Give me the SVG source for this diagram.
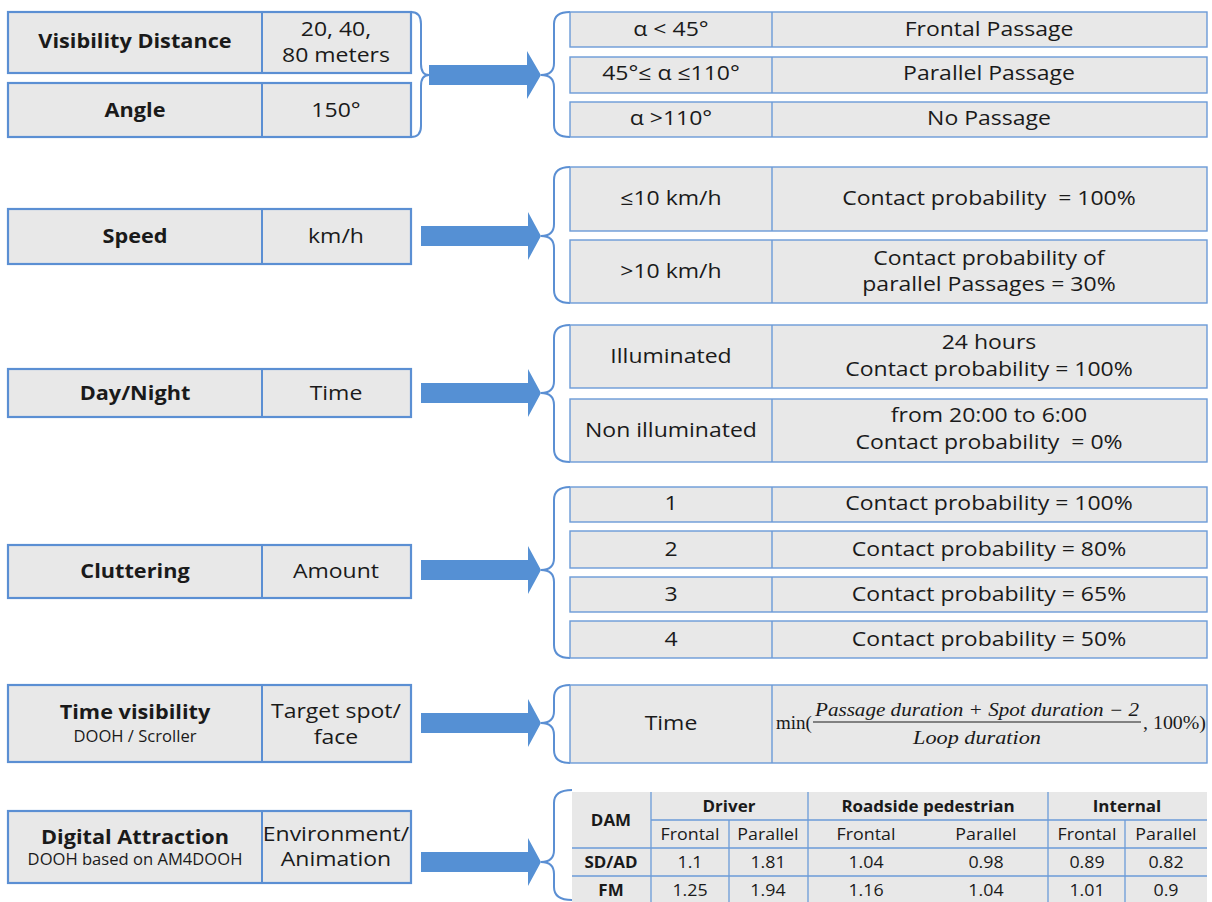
<svg xmlns="http://www.w3.org/2000/svg" width="1212" height="902" viewBox="0 0 1212 902">
<style>
  .lbox{fill:#e8e8e8;stroke:#5b8fd3;stroke-width:2.2}
  .rbox{fill:#e8e8e8;stroke:#6b9bd8;stroke-width:1.4}
  .div{stroke:#5b8fd3;stroke-width:2}
  .rdiv{stroke:#6b9bd8;stroke-width:1.4}
  .arrow{fill:#5590d4}
  .brace{fill:none;stroke:#5b8fd3;stroke-width:2}
  text{font-family:"Open Sans","Noto Sans",sans-serif;fill:#1a1a1a;text-anchor:middle}
  .t,.s,.tb{transform-box:fill-box;transform-origin:center}
  .b{font-weight:bold}
  .t{font-size:20px;transform:scaleX(1.15)}
  .t.b{transform:scaleX(1.085)}
  .s{font-size:15.5px;transform:scaleX(1.07)}
  .tb{font-size:16.5px;transform:scaleX(1.08)}
  .tb.b{transform:scaleX(1.03)}
  .m{font-family:"Liberation Serif","DejaVu Serif",serif;font-size:19px}
  .mi{font-family:"Liberation Serif","DejaVu Serif",serif;font-size:18px;font-style:italic}
  .tl{stroke:#6b9bd8;stroke-width:1.3}
</style>

<!-- Left nodes -->
<g id="n-visibility">
  <rect class="lbox" x="8" y="12" width="403" height="61"/>
  <line class="div" x1="262" y1="12" x2="262" y2="73"/>
  <text class="t b" x="135" y="48">Visibility Distance</text>
  <text class="t" x="336" y="36">20, 40,</text>
  <text class="t" x="336" y="62">80 meters</text>
</g>
<g id="n-angle">
  <rect class="lbox" x="8" y="83" width="403" height="54"/>
  <line class="div" x1="262" y1="83" x2="262" y2="137"/>
  <text class="t b" x="135" y="117">Angle</text>
  <text class="t" x="336" y="117">150°</text>
</g>
<g id="n-speed">
  <rect class="lbox" x="8" y="209" width="403" height="55"/>
  <line class="div" x1="262" y1="209" x2="262" y2="264"/>
  <text class="t b" x="135" y="243">Speed</text>
  <text class="t" x="336" y="243">km/h</text>
</g>
<g id="n-daynight">
  <rect class="lbox" x="8" y="369" width="403" height="48"/>
  <line class="div" x1="262" y1="369" x2="262" y2="417"/>
  <text class="t b" x="135" y="400">Day/Night</text>
  <text class="t" x="336" y="400">Time</text>
</g>
<g id="n-cluttering">
  <rect class="lbox" x="8" y="545" width="403" height="53"/>
  <line class="div" x1="262" y1="545" x2="262" y2="598"/>
  <text class="t b" x="135" y="578">Cluttering</text>
  <text class="t" x="336" y="578">Amount</text>
</g>
<g id="n-timevis">
  <rect class="lbox" x="8" y="685" width="403" height="77"/>
  <line class="div" x1="262" y1="685" x2="262" y2="762"/>
  <text class="t b" x="135" y="719">Time visibility</text>
  <text class="s" x="135" y="742">DOOH / Scroller</text>
  <text class="t" x="336" y="718">Target spot/</text>
  <text class="t" x="336" y="744">face</text>
</g>
<g id="n-digital">
  <rect class="lbox" x="8" y="811" width="403" height="72"/>
  <line class="div" x1="262" y1="811" x2="262" y2="883"/>
  <text class="t b" x="135" y="844">Digital Attraction</text>
  <text class="s" x="135" y="865">DOOH based on AM4DOOH</text>
  <text class="t" x="336" y="841">Environment/</text>
  <text class="t" x="336" y="866">Animation</text>
</g>

<!-- Connectors: braces and arrows -->
<g id="connectors">
  <path class="brace" d="M411,12 Q421,12 421,24 L421,64 Q421,75 429,75 Q421,75 421,86 L421,126 Q421,137 411,137"/>
  <polygon class="arrow" points="429,65 527,65 527,51 541,75 527,99 527,85 429,85"/>
  <path class="brace" d="M570,12 Q554,12 554,24 L554,63 Q554,75 541,75 Q554,75 554,87 L554,125 Q554,137 570,137"/>

  <polygon class="arrow" points="421,226 528,226 528,212 541,236 528,260 528,246 421,246"/>
  <path class="brace" d="M570,167 Q554,167 554,180 L554,224 Q554,236 541,236 Q554,236 554,248 L554,290 Q554,303 570,303"/>

  <polygon class="arrow" points="421,383 528,383 528,369 541,393 528,417 528,403 421,403"/>
  <path class="brace" d="M570,325 Q554,325 554,338 L554,381 Q554,393 541,393 Q554,393 554,405 L554,449 Q554,462 570,462"/>

  <polygon class="arrow" points="421,560 528,560 528,546 541,570 528,594 528,580 421,580"/>
  <path class="brace" d="M570,487 Q554,487 554,500 L554,558 Q554,570 541,570 Q554,570 554,582 L554,645 Q554,658 570,658"/>

  <polygon class="arrow" points="421,713 528,713 528,699 541,723 528,747 528,733 421,733"/>
  <path class="brace" d="M570,685 Q554,685 554,698 L554,711 Q554,723 541,723 Q554,723 554,735 L554,750 Q554,763 570,763"/>

  <polygon class="arrow" points="421,852 528,852 528,838 541,862 528,886 528,872 421,872"/>
  <path class="brace" d="M572,790 Q554,790 554,803 L554,850 Q554,862 541,862 Q554,862 554,874 L554,887 Q554,900 572,900"/>
</g>

<!-- Right nodes -->
<g id="r-angle">
  <rect class="rbox" x="570" y="12" width="637" height="35"/>
  <line class="rdiv" x1="772" y1="12" x2="772" y2="47"/>
  <text class="t" x="671" y="36">α &lt; 45°</text>
  <text class="t" x="989" y="36">Frontal Passage</text>
  <rect class="rbox" x="570" y="57" width="637" height="36"/>
  <line class="rdiv" x1="772" y1="57" x2="772" y2="93"/>
  <text class="t" x="671" y="80">45°≤ α ≤110°</text>
  <text class="t" x="989" y="80">Parallel Passage</text>
  <rect class="rbox" x="570" y="102" width="637" height="35"/>
  <line class="rdiv" x1="772" y1="102" x2="772" y2="137"/>
  <text class="t" x="671" y="125">α &gt;110°</text>
  <text class="t" x="989" y="125">No Passage</text>
</g>
<g id="r-speed">
  <rect class="rbox" x="570" y="167" width="637" height="64"/>
  <line class="rdiv" x1="772" y1="167" x2="772" y2="231"/>
  <text class="t" x="671" y="205">≤10 km/h</text>
  <text class="t" x="989" y="205" xml:space="preserve">Contact probability  = 100%</text>
  <rect class="rbox" x="570" y="240" width="637" height="63"/>
  <line class="rdiv" x1="772" y1="240" x2="772" y2="303"/>
  <text class="t" x="671" y="278">&gt;10 km/h</text>
  <text class="t" x="989" y="265">Contact probability of</text>
  <text class="t" x="989" y="291">parallel Passages = 30%</text>
</g>
<g id="r-daynight">
  <rect class="rbox" x="570" y="325" width="637" height="63"/>
  <line class="rdiv" x1="772" y1="325" x2="772" y2="388"/>
  <text class="t" x="671" y="363">Illuminated</text>
  <text class="t" x="989" y="349">24 hours</text>
  <text class="t" x="989" y="376">Contact probability = 100%</text>
  <rect class="rbox" x="570" y="399" width="637" height="63"/>
  <line class="rdiv" x1="772" y1="399" x2="772" y2="462"/>
  <text class="t" x="671" y="437">Non illuminated</text>
  <text class="t" x="989" y="422">from 20:00 to 6:00</text>
  <text class="t" x="989" y="449" xml:space="preserve">Contact probability  = 0%</text>
</g>
<g id="r-cluttering">
  <rect class="rbox" x="570" y="487" width="637" height="35"/>
  <line class="rdiv" x1="772" y1="487" x2="772" y2="522"/>
  <text class="t" x="671" y="510">1</text>
  <text class="t" x="989" y="510">Contact probability = 100%</text>
  <rect class="rbox" x="570" y="531" width="637" height="37"/>
  <line class="rdiv" x1="772" y1="531" x2="772" y2="568"/>
  <text class="t" x="671" y="556">2</text>
  <text class="t" x="989" y="556">Contact probability = 80%</text>
  <rect class="rbox" x="570" y="577" width="637" height="35"/>
  <line class="rdiv" x1="772" y1="577" x2="772" y2="612"/>
  <text class="t" x="671" y="601">3</text>
  <text class="t" x="989" y="601">Contact probability = 65%</text>
  <rect class="rbox" x="570" y="621" width="637" height="37"/>
  <line class="rdiv" x1="772" y1="621" x2="772" y2="658"/>
  <text class="t" x="671" y="646">4</text>
  <text class="t" x="989" y="646">Contact probability = 50%</text>
</g>
<g id="r-timevis">
  <rect class="rbox" x="570" y="685" width="637" height="78"/>
  <line class="rdiv" x1="772" y1="685" x2="772" y2="763"/>
  <text class="t" x="671" y="730">Time</text>
  <text class="m" x="776" y="729" style="text-anchor:start">min(</text>
  <text class="mi" x="977" y="716" textLength="324" lengthAdjust="spacingAndGlyphs">Passage duration + Spot duration − 2</text>
  <line x1="813" y1="722" x2="1141" y2="722" stroke="#1a1a1a" stroke-width="1"/>
  <text class="mi" x="977" y="744" textLength="128" lengthAdjust="spacingAndGlyphs">Loop duration</text>
  <text class="m" x="1143" y="729" style="text-anchor:start" textLength="63" lengthAdjust="spacingAndGlyphs">, 100%)</text>
</g>
<g id="r-digital">
  <rect x="572" y="792" width="635" height="110" fill="#e8e8e8"/>
  <line class="tl" x1="651" y1="792" x2="651" y2="902"/>
  <line class="tl" x1="808" y1="792" x2="808" y2="902"/>
  <line class="tl" x1="1048" y1="792" x2="1048" y2="902"/>
  <line class="tl" x1="729" y1="820" x2="729" y2="902"/>
  <line class="tl" x1="1125" y1="820" x2="1125" y2="902"/>
  <line class="tl" x1="651" y1="820" x2="1207" y2="820"/>
  <line class="tl" x1="572" y1="848" x2="1207" y2="848"/>
  <line class="tl" x1="572" y1="876" x2="1207" y2="876"/>
  <text class="tb b" x="611" y="826">DAM</text>
  <text class="tb b" x="729" y="812">Driver</text>
  <text class="tb b" x="928" y="812">Roadside pedestrian</text>
  <text class="tb b" x="1127" y="812">Internal</text>
  <text class="tb" x="690" y="840">Frontal</text>
  <text class="tb" x="768" y="840">Parallel</text>
  <text class="tb" x="866" y="840">Frontal</text>
  <text class="tb" x="986" y="840">Parallel</text>
  <text class="tb" x="1087" y="840">Frontal</text>
  <text class="tb" x="1166" y="840">Parallel</text>
  <text class="tb b" x="611" y="868">SD/AD</text>
  <text class="tb" x="690" y="868">1.1</text>
  <text class="tb" x="768" y="868">1.81</text>
  <text class="tb" x="866" y="868">1.04</text>
  <text class="tb" x="986" y="868">0.98</text>
  <text class="tb" x="1087" y="868">0.89</text>
  <text class="tb" x="1166" y="868">0.82</text>
  <text class="tb b" x="611" y="896">FM</text>
  <text class="tb" x="690" y="896">1.25</text>
  <text class="tb" x="768" y="896">1.94</text>
  <text class="tb" x="866" y="896">1.16</text>
  <text class="tb" x="986" y="896">1.04</text>
  <text class="tb" x="1087" y="896">1.01</text>
  <text class="tb" x="1166" y="896">0.9</text>
</g>
</svg>
